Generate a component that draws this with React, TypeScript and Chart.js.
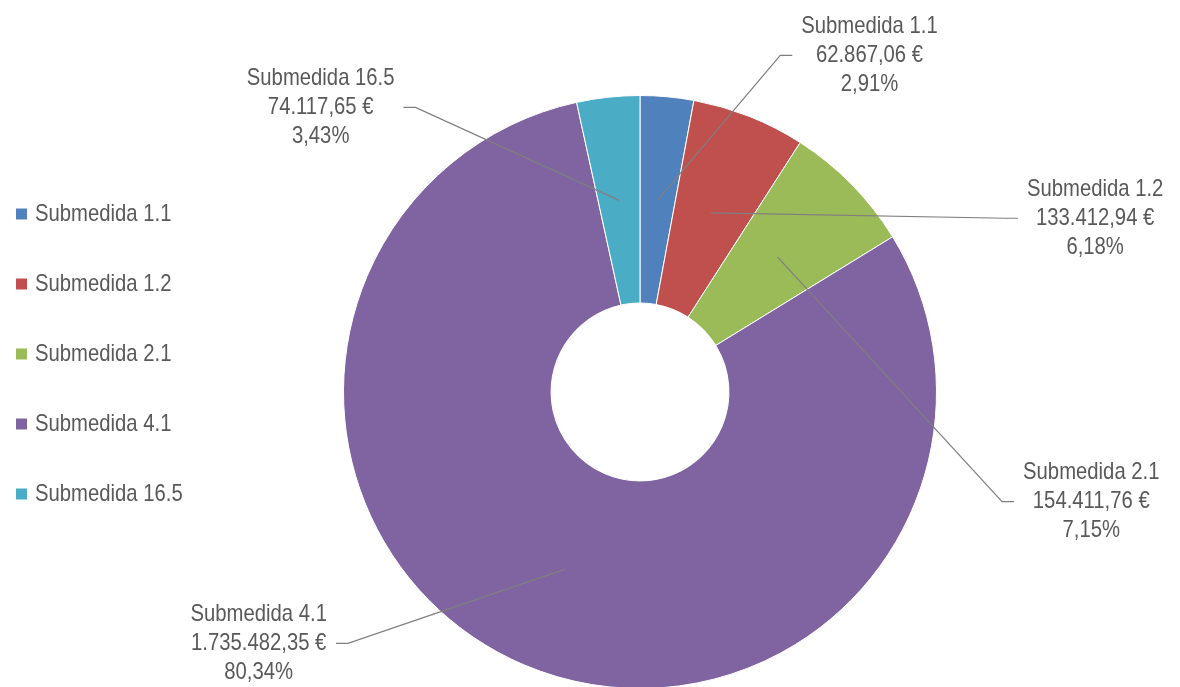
import { useEffect, useRef } from 'react';
import { Chart, registerables } from 'chart.js';

Chart.register(...registerables);

// ---- data ----
const categories = ['Submedida 1.1', 'Submedida 1.2', 'Submedida 2.1', 'Submedida 4.1', 'Submedida 16.5'];
const amounts = [62867.06, 133412.94, 154411.76, 1735482.35, 74117.65];
const sliceColors = ['#4F81BD', '#C0504D', '#9BBB59', '#8064A2', '#4BACC6'];

// ---- layout (label block placement relative to doughnut centre, in outer-radius units) ----
const labelPlacement: [number, number][] = [
  [0.774, -1.135],
  [1.535, -0.586],
  [1.522, 0.37],
  [-1.286, 0.848],
  [-1.077, -0.96],
];

const FONT = '24px "Liberation Sans", Arial, sans-serif';
const NARROW = 0.845; // horizontal condensing to mimic Arial Narrow
const TEXT_COLOR = '#595959';
const LINE_COLOR = '#7f7f7f';
const LINE_H = 29;

const LEGEND_X = 16;
const LEGEND_TOP = 214;
const LEGEND_STEP = 70;
const LEGEND_BOX = 11;

function formatEuro(v: number): string {
  const fixed = v.toFixed(2);
  const [intPart, dec] = fixed.split('.');
  const grouped = intPart.replace(/\B(?=(\d{3})+(?!\d))/g, '.');
  return `${grouped},${dec} €`;
}

function formatPct(v: number, total: number): string {
  return `${((v / total) * 100).toFixed(2).replace('.', ',')}%`;
}

function narrowText(ctx: CanvasRenderingContext2D, text: string, x: number, y: number) {
  ctx.save();
  ctx.translate(x, y);
  ctx.scale(NARROW, 1);
  ctx.fillText(text, 0, 0);
  ctx.restore();
}

const labelsPlugin = {
  id: 'leaderLabels',
  afterDatasetsDraw(chart: any) {
    const ctx: CanvasRenderingContext2D = chart.ctx;
    const meta = chart.getDatasetMeta(0);
    const values: number[] = chart.data.datasets[0].data;
    const total = values.reduce((a, b) => a + b, 0);
    const first = meta.data[0];
    if (!first) return;
    const { x: cx, y: cy, outerRadius: R } = first.getProps(['x', 'y', 'outerRadius'], true);
    ctx.save();
    ctx.font = FONT;
    ctx.textAlign = 'center';
    ctx.textBaseline = 'middle';
    meta.data.forEach((arc: any, i: number) => {
      const p = arc.tooltipPosition(true);
      const [px, py] = labelPlacement[i];
      const lx = cx + px * R;
      const ly = cy + py * R;
      const lines = [chart.data.labels[i], formatEuro(values[i]), formatPct(values[i], total)];
      const w = Math.max(...lines.map((t: string) => ctx.measureText(t).width)) * NARROW;
      let end: number, elbow: number;
      if (lx > p.x) {
        end = lx - w / 2 - 9;
        elbow = end - 12;
      } else {
        end = lx + w / 2 + 9;
        elbow = end + 12;
      }
      ctx.strokeStyle = LINE_COLOR;
      ctx.lineWidth = 1.2;
      ctx.beginPath();
      ctx.moveTo(p.x, p.y);
      ctx.lineTo(elbow, ly);
      ctx.lineTo(end, ly);
      ctx.stroke();
      ctx.fillStyle = TEXT_COLOR;
      lines.forEach((t: string, k: number) => {
        narrowText(ctx, t, lx, ly + (k - 1) * LINE_H);
      });
    });
    ctx.restore();
  },
};

const sideLegendPlugin = {
  id: 'sideLegend',
  afterDraw(chart: any) {
    const ctx: CanvasRenderingContext2D = chart.ctx;
    const ds = chart.data.datasets[0];
    ctx.save();
    ctx.font = FONT;
    ctx.textAlign = 'left';
    ctx.textBaseline = 'middle';
    (chart.data.labels as string[]).forEach((label, i) => {
      const y = LEGEND_TOP + i * LEGEND_STEP;
      ctx.fillStyle = ds.backgroundColor[i];
      ctx.fillRect(LEGEND_X, y - LEGEND_BOX / 2, LEGEND_BOX, LEGEND_BOX);
      ctx.fillStyle = TEXT_COLOR;
      narrowText(ctx, label, LEGEND_X + 19, y);
    });
    ctx.restore();
  },
};

export default function App() {
  const canvasRef = useRef<HTMLCanvasElement | null>(null);

  useEffect(() => {
    document.body.style.margin = '0';
    document.body.style.overflow = 'hidden';
    const canvas = canvasRef.current;
    if (!canvas) return;
    const chart = new Chart(canvas, {
      type: 'doughnut',
      data: {
        labels: categories,
        datasets: [
          {
            data: amounts,
            backgroundColor: sliceColors,
            borderColor: '#ffffff',
            borderWidth: 1,
          },
        ],
      },
      options: {
        responsive: false,
        animation: false,
        cutout: '30%',
        layout: { padding: { top: 95, bottom: 5, left: 100, right: 0 } },
        plugins: {
          legend: { display: false },
          tooltip: { enabled: false },
        },
      },
      plugins: [labelsPlugin, sideLegendPlugin],
    });
    return () => chart.destroy();
  }, []);

  return (
    <div style={{ width: 1180, height: 687, overflow: 'hidden', background: '#fff' }}>
      <canvas ref={canvasRef} width={1180} height={694} style={{ display: 'block' }} />
    </div>
  );
}
